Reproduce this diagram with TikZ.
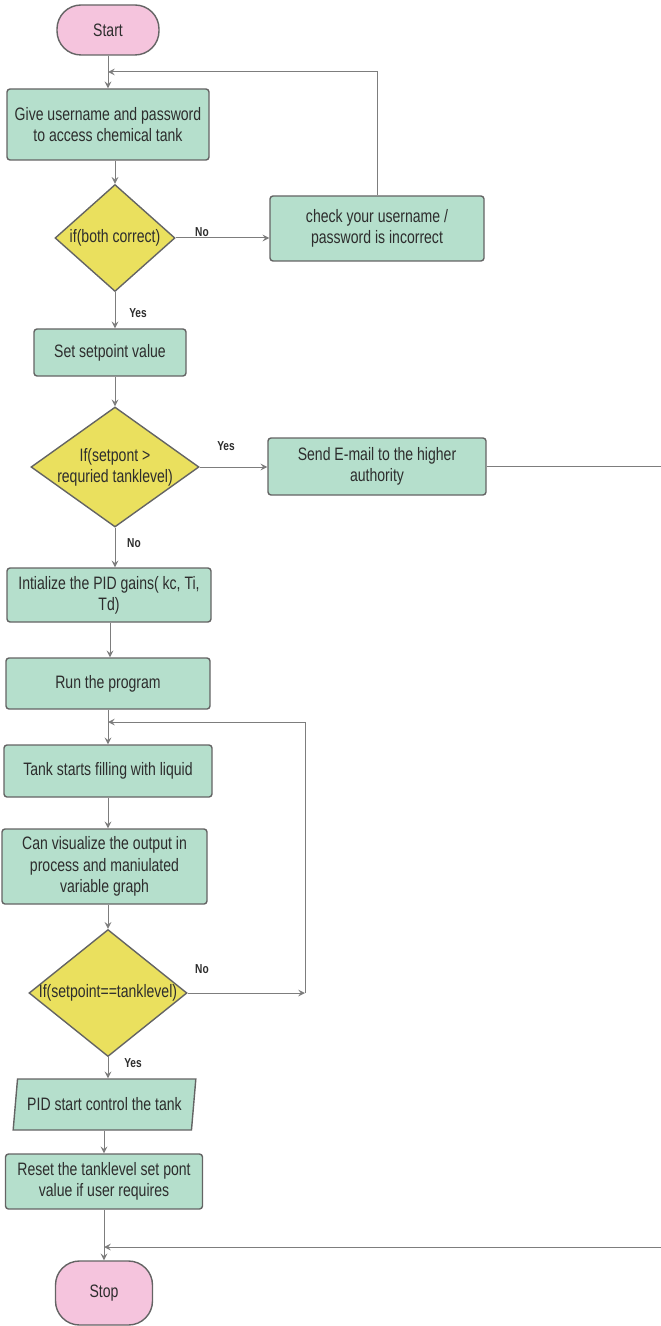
\documentclass[tikz,border=0pt]{standalone}
\usepackage{fontspec}
\setmainfont{Liberation Sans}[FakeStretch=0.78]
\usetikzlibrary{shapes.geometric}
\definecolor{procgreen}{RGB}{181,223,204}
\definecolor{decyellow}{RGB}{234,224,94}
\definecolor{termpink}{RGB}{245,196,221}
\definecolor{edgegray}{RGB}{100,100,100}
\definecolor{linegray}{RGB}{125,125,125}
\definecolor{inkgray}{RGB}{45,45,45}
\tikzset{
  base/.style={draw=edgegray, line width=0.7pt, text=inkgray,
    font=\fontsize{9}{10.6}\selectfont, align=center, inner sep=1pt},
  term/.style={base, fill=termpink, rounded corners=12pt},
  proc/.style={base, fill=procgreen, rounded corners=1.5pt},
  decision/.style={base, diamond, fill=decyellow, inner sep=0pt},
  inout/.style={base, trapezium, trapezium left angle=77,
    trapezium right angle=103, trapezium stretches=true, fill=procgreen},
  dtext/.style={text=inkgray, font=\fontsize{9}{10.6}\selectfont,
    align=center, inner sep=0pt},
  flow/.style={draw=linegray, line width=0.5pt, ->, >=stealth},
  lbl/.style={text=inkgray, font=\fontsize{6.5}{7}\selectfont\bfseries},
}
\begin{document}
\begin{tikzpicture}[x=0.5pt,y=-0.5pt]
\useasboundingbox (0,0) rectangle (660,1326);

% Login part.
\node[term, minimum width=51pt, minimum height=25pt] (start) at (108,30) {Start};
\node[proc, minimum width=101pt, minimum height=35.5pt] (give) at (108,124.5)
  {Give username and password\\to access chemical tank};
\node[decision, minimum width=60pt, minimum height=53.5pt] (bothok) at (115,238) {};
\node[dtext] (bothoktxt) at (bothok) {if(both correct)};
\node[proc, minimum width=107pt, minimum height=32.5pt] (check) at (377,228.5)
  {check your username /\\password is incorrect};
\coordinate (topjoin) at (108,72);

\draw[flow] (start) -- (give);
\draw[flow] (check.north) |- (topjoin);
\draw[flow] (give.south -| bothok.north) -- (bothok.north);
\draw[flow] (bothok.east) -- (bothok.east -| check.west);
\node[lbl] (nologin) at (202,232) {No};

% Setpoint check.
\node[proc, minimum width=76pt, minimum height=23.5pt] (setsp) at (110,352.5) {Set setpoint value};
\node[decision, minimum width=84pt, minimum height=60pt] (spcheck) at (115,467) {};
\node[dtext] (spchecktxt) at (spcheck) {If(setpont >\\requried tanklevel)};
\node[proc, minimum width=109pt, minimum height=28.5pt] (email) at (377,466.5)
  {Send E-mail to the higher\\authority};

\draw[flow] (bothok.south) -- (bothok.south |- setsp.north);
\node[lbl] (yeslogin) at (138,313) {Yes};
\draw[flow] (setsp.south -| spcheck.north) -- (spcheck.north);
\draw[flow] (spcheck.east) -- (spcheck.east -| email.west);
\node[lbl] (yessp) at (226,446) {Yes};

% PID part.
\node[proc, minimum width=102pt, minimum height=27pt] (gains) at (109,595)
  {Intialize the PID gains( kc, Ti,\\Td)};
\node[proc, minimum width=102pt, minimum height=25.5pt] (run) at (108,683.5) {Run the program};
\node[proc, minimum width=104pt, minimum height=26pt] (tank) at (108,771) {Tank starts filling with liquid};
\node[proc, minimum width=102.5pt, minimum height=37.5pt] (visual) at (104.5,866.5)
  {Can visualize the output in\\process and maniulated\\variable graph};
\node[decision, minimum width=79pt, minimum height=63.5pt] (level) at (108,993) {};
\node[dtext] (leveltxt) at (level) {If(setpoint==tanklevel)};
\coordinate (loopjoin) at (108,722);
\coordinate (loopturn) at (305,993);

\draw[flow] (spcheck.south) -- (spcheck.south |- gains.north);
\node[lbl] (nosp) at (134,543) {No};
\draw[flow] (gains.south -| 110,0) -- (run.north -| 110,0);
\draw[flow] (run.south) -- (tank.north);
\draw[flow] (loopturn) |- (loopjoin);
\draw[flow] (tank.south) -- (tank.south |- visual.north);
\draw[flow] (visual.south -| level.north) -- (level.north);
\draw[flow] (level.east) -- (loopturn);
\node[lbl] (nolevel) at (202,969) {No};

% End part.
\node[inout, minimum width=91.5pt, minimum height=25.5pt] (pidctl) at (104.5,1104.5) {PID start control the tank};
\node[proc, minimum width=98.5pt, minimum height=27.5pt] (reset) at (104,1181.5)
  {Reset the tanklevel set pont\\value if user requires};
\node[term, minimum width=48.5pt, minimum height=32pt] (stop) at (104,1293) {Stop};
\coordinate (stopjoin) at (104,1247);
\coordinate (mailturn) at (690,466.5);

\draw[flow] (level.south) -- (level.south |- pidctl.north);
\node[lbl] (yeslevel) at (133,1063) {Yes};
\draw[flow] (pidctl.south -| reset.north) -- (reset.north);
\draw[flow] (reset.south) -- (stop.north);
\draw[flow] (email.east) -- (mailturn) |- (stopjoin);
\end{tikzpicture}
\end{document}
